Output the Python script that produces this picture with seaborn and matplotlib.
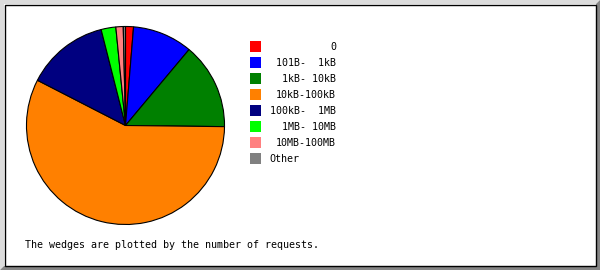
import matplotlib
matplotlib.use("Agg")
import matplotlib.pyplot as plt
from matplotlib.patches import Polygon, Rectangle
import seaborn as sns

# Share of requests by response size (percent)
categories = ["0", "101B-  1kB", "1kB- 10kB", "10kB-100kB",
              "100kB-  1MB", "1MB- 10MB", "10MB-100MB", "Other"]
shares = [1.3, 9.8, 14.1, 57.4, 13.5, 2.4, 1.2, 0.36]
colors = ["#ff0000", "#0000ff", "#008000", "#ff8000",
          "#000080", "#00ff00", "#ff8080", "#808080"]
caption = "The wedges are plotted by the number of requests."

sns.set_theme(style="white")
plt.rcParams["font.family"] = ["DejaVu Sans Mono"]
plt.rcParams["text.color"] = "black"

W, H = 600, 270
fig = plt.figure(figsize=(W / 100, H / 100), dpi=100)
fig.patch.set_facecolor("white")


def px(x, y):
    """Pixel coordinates (origin top-left) to figure fraction."""
    return (x / W, 1 - y / H)


# Bevelled frame, kept behind the axes
bev = 4
fig.patches.append(Polygon([px(0, 0), px(W, 0), px(W - bev, bev), px(bev, bev),
                            px(bev, H - bev), px(0, H)],
                           closed=True, transform=fig.transFigure,
                           facecolor="#dcdcdc", edgecolor="none", zorder=-10))
fig.patches.append(Polygon([px(W, 0), px(W, H), px(0, H), px(bev, H - bev),
                            px(W - bev, H - bev), px(W - bev, bev)],
                           closed=True, transform=fig.transFigure,
                           facecolor="#858585", edgecolor="none", zorder=-10))
fig.patches.append(Rectangle(px(bev + 0.5, H - bev - 0.5),
                             (W - 2 * bev - 1) / W, (H - 2 * bev - 1) / H,
                             transform=fig.transFigure, facecolor="white",
                             edgecolor="black", linewidth=1.0, zorder=-9))

# Pie
cx, cy, r = 125.5, 125.5, 100
ax = fig.add_axes([(cx - r) / W, 1 - (cy + r) / H, 2 * r / W, 2 * r / H])
ax.patch.set_alpha(0)
ax.pie(shares, colors=colors, startangle=90, counterclock=False, radius=1,
       wedgeprops=dict(edgecolor="black", linewidth=0.8))
ax.set_xlim(-1.01, 1.01)
ax.set_ylim(-1.01, 1.01)
ax.set_aspect("equal")
ax.axis("off")

# Legend
sq = 11
for i, (lab, col) in enumerate(zip(categories, colors)):
    yc = 46.5 + 16 * i
    fig.patches.append(Rectangle(px(250, yc + sq / 2), sq / W, sq / H,
                                 transform=fig.transFigure, facecolor=col,
                                 edgecolor="none"))
    if lab == "Other":
        fig.text(*px(269, yc), lab, ha="left", va="center", fontsize=7.2)
    else:
        fig.text(*px(336, yc), lab, ha="right", va="center", fontsize=7.2)

fig.text(*px(25, 245), caption, ha="left", va="center", fontsize=7.2)

fig.savefig("out.png", dpi=100, facecolor=fig.get_facecolor())
